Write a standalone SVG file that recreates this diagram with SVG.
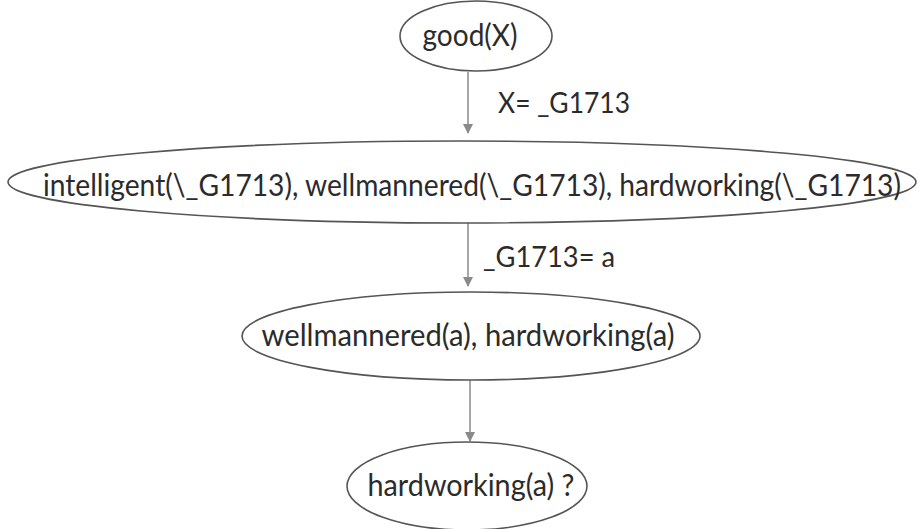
<svg xmlns="http://www.w3.org/2000/svg" width="917" height="529" viewBox="0 0 917 529">
<style>
.node ellipse{fill:#fff;stroke:#555;stroke-width:1.6}
.node text{font-family:Lato,"Liberation Sans",sans-serif;font-size:30px;fill:#2b2b2b;text-anchor:middle}
.edge line{stroke:#8a8a8a;stroke-width:1.5}
.lbl{font-family:Lato,"Liberation Sans",sans-serif;font-size:28px;fill:#2b2b2b}
</style>
<defs>
<marker id="arr" markerWidth="10" markerHeight="10" refX="9" refY="5" orient="auto" markerUnits="userSpaceOnUse">
<path d="M0,0 L10,5 L0,10 Z" fill="#8a8a8a"/>
</marker>
</defs>
<rect width="917" height="529" fill="#fff"/>
<g id="connectors" class="edge">
<line x1="468" y1="72" x2="468" y2="133" marker-end="url(#arr)"/>
<line x1="468" y1="223" x2="468" y2="286" marker-end="url(#arr)"/>
<line x1="470" y1="380" x2="470" y2="441" marker-end="url(#arr)"/>
<text class="lbl" x="498" y="113" textLength="132" lengthAdjust="spacingAndGlyphs">X= _G1713</text>
<text class="lbl" x="483" y="267" textLength="132" lengthAdjust="spacingAndGlyphs">_G1713= a</text>
</g>
<g id="n1" class="node">
<ellipse cx="476" cy="36" rx="76" ry="35"/>
<text x="470" y="46" textLength="95" lengthAdjust="spacingAndGlyphs">good(X)</text>
</g>
<g id="n2" class="node">
<ellipse cx="462" cy="182" rx="454" ry="41"/>
<text x="472" y="196" textLength="858" lengthAdjust="spacingAndGlyphs">intelligent(\_G1713), wellmannered(\_G1713), hardworking(\_G1713)</text>
</g>
<g id="n3" class="node">
<ellipse cx="471" cy="336" rx="229" ry="44"/>
<text x="468" y="346" textLength="413" lengthAdjust="spacingAndGlyphs">wellmannered(a), hardworking(a)</text>
</g>
<g id="n4" class="node">
<ellipse cx="467" cy="486" rx="120" ry="44"/>
<text x="471" y="496" textLength="207" lengthAdjust="spacingAndGlyphs">hardworking(a) ?</text>
</g>
</svg>
